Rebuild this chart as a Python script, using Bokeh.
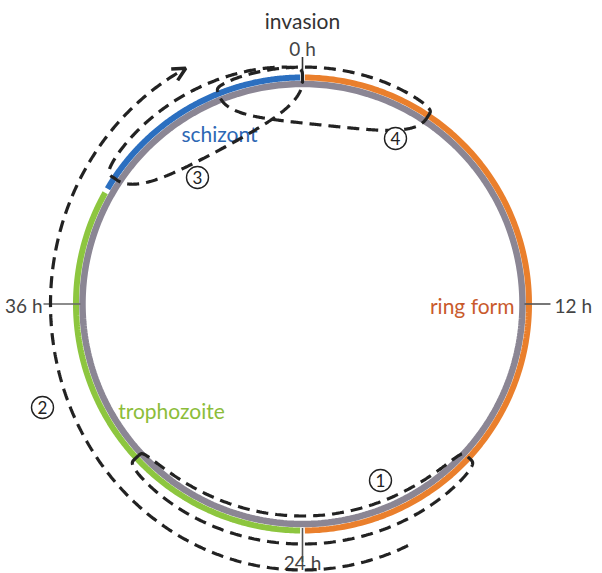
import numpy as np
from bokeh.plotting import figure
from bokeh.models import Range1d, Arrow, OpenHead
from bokeh.core.properties import value
from bokeh.embed import file_html
from bokeh.resources import INLINE

# ---------------- data ----------------
cycle_hours = 48
stages = ["ring form", "trophozoite", "schizont"]
stage_start_h = [0, 24, 40]
stage_end_h = [24, 40, 48]
stage_colors = ["#ea7f2c", "#8dc63f", "#2b6fc0"]
stage_text_colors = ["#c95a2c", "#8cbd3a", "#2d68b4"]

tick_hours = [0, 12, 24, 36]
tick_labels = ["0 h", "12 h", "24 h", "36 h"]
top_label = "invasion"

# dashed phases (lenses) around the ring: start hour, end hour
phase_ids = ["1", "3", "4"]
phase_start_h = [17.7, 40.5, 45.1]
phase_end_h = [30.3, 48.0, 52.5]

# long dashed sweep with arrow
sweep_id = "2"
sweep_start_h = 20.7
sweep_end_h = 44.2

# ---------------- geometry / style ----------------
R_COLOR = 226.5
R_GRAY = 220.0
R_MID = 223.0
FONT = value("Lato")
DASH = "12 7"
DARK = "#222222"


def polar(h, r):
    th = np.asarray(h, dtype=float) / cycle_hours * 2 * np.pi
    return r * np.sin(th), r * np.cos(th)


p = figure(width=602, height=573,
           x_range=Range1d(-302, 300), y_range=Range1d(-269.5, 303.5),
           x_axis_type=None, y_axis_type=None,
           output_backend="svg", toolbar_location=None, min_border=0)
p.grid.visible = False
p.outline_line_color = None
p.background_fill_color = "white"

# gray ring
hh = np.linspace(0, cycle_hours, 400)
gx, gy = polar(hh, R_GRAY)
p.line(gx, gy, line_color="#8b8694", line_width=6.5)

# coloured stage arcs
for s0, s1, c in zip(stage_start_h, stage_end_h, stage_colors):
    h = np.linspace(s0 + 0.08, s1 - 0.08, 200)
    x, y = polar(h, R_COLOR)
    p.line(x, y, line_color=c, line_width=6, line_cap="butt")

# ticks
tick_rin = [220, 222, 224, 222]
tick_rout = [247, 248, 258, 259]
tick_cols = ["#333333", "#555555", "#555555", "#666666"]
for h, ri, ro, c in zip(tick_hours, tick_rin, tick_rout, tick_cols):
    x, y = polar([h, h], np.array([ri, ro]))
    p.line(x, y, line_color=c, line_width=1.6)

# tick labels
lab_r = [257, 252, 257, 260]
lab_align = ["center", "left", "center", "right"]
for h, t, r, a in zip(tick_hours, tick_labels, lab_r, lab_align):
    x, y = polar(h, r)
    p.text(x=[float(x)], y=[float(y) - 1.5], text=[t], text_font=FONT,
           text_font_size="19px", text_color="#444444",
           text_align=a, text_baseline="middle")

x0, y0 = polar(0, 284)
p.text(x=[float(x0)], y=[float(y0)], text=[top_label], text_font=FONT,
       text_font_size="21px", text_color="#333333",
       text_align="center", text_baseline="middle")

# stage labels
stage_lab_x = [212, -131, -83]
stage_lab_y = [-1.5, -106.5, 171]
stage_lab_align = ["right", "center", "center"]
for t, x, y, c, a in zip(stages, stage_lab_x, stage_lab_y, stage_text_colors, stage_lab_align):
    p.text(x=[x], y=[y], text=[t], text_font=FONT, text_font_size="21px",
           text_color=c, text_align=a, text_baseline="middle")

# dashed lenses
lens_out = [17, 17, 14]
lens_in = [11, 48, 43]
lens_pow = [0.5, 1.0, 1.0]
s = np.linspace(0, 2 * np.pi, 500)
for h0, h1, o, i, pw in zip(phase_start_h, phase_end_h, lens_out, lens_in, lens_pow):
    mid = (h0 + h1) / 2
    half = (h1 - h0) / 2
    h = mid + half * np.cos(s)
    sn = np.sin(s)
    r = np.where(sn >= 0, R_MID + o * np.abs(sn) ** 0.25,
                 R_MID - i * np.abs(sn) ** pw)
    x, y = polar(h, r)
    p.line(x, y, line_color=DARK, line_width=3.2, line_dash=DASH)

# long sweep (ellipse) with arrow
A_ELL, B_ELL = 252, 266
h = np.linspace(sweep_start_h, sweep_end_h, 400)
th = h / cycle_hours * 2 * np.pi
sx, sy = A_ELL * np.sin(th), B_ELL * np.cos(th)
p.line(sx, sy, line_color=DARK, line_width=3.2, line_dash=DASH)
te = sweep_end_h / cycle_hours * 2 * np.pi
tx, ty = A_ELL * np.cos(te), -B_ELL * np.sin(te)
nrm = np.hypot(tx, ty)
tx, ty = tx / nrm, ty / nrm
ex, ey = A_ELL * np.sin(te), B_ELL * np.cos(te)
p.add_layout(Arrow(end=OpenHead(size=13, line_width=3.5, line_color=DARK),
                   x_start=float(ex - 6 * tx), y_start=float(ey - 6 * ty),
                   x_end=float(ex + 4 * tx), y_end=float(ey + 4 * ty),
                   line_alpha=0))

# circled numbers
num_ids = ["1", "2", "3", "4"]
num_x = [78, -260, -105, 93]
num_y = [-176.5, -103.5, 126.5, 165.5]
p.circle(x=num_x, y=num_y, radius=11, fill_color="white",
         line_color=DARK, line_width=1.4)
p.text(x=num_x, y=num_y, text=num_ids, text_font=FONT, text_font_size="17px",
       text_color=DARK, text_align="center", text_baseline="middle")

open("out.html", "w").write(file_html(p, INLINE))
